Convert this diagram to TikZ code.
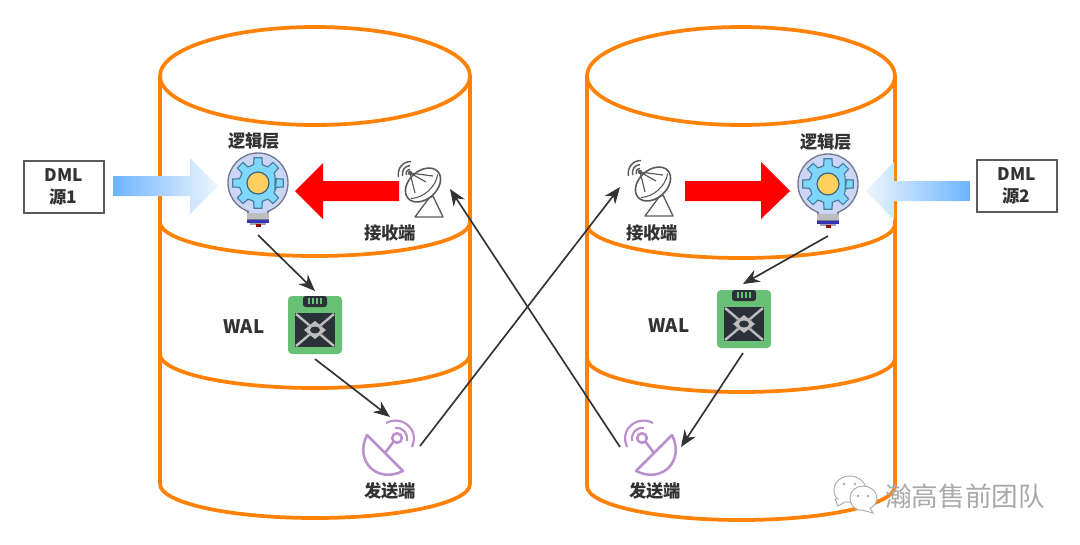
\documentclass[tikz,border=0pt]{standalone}
\usepackage{fontspec}
\setmainfont{Noto Sans CJK SC}
\usetikzlibrary{arrows.meta}
\definecolor{can}{HTML}{FF8207}
\definecolor{ink}{HTML}{333333}
\definecolor{blueA}{HTML}{6DB4FF}
\definecolor{blueB}{HTML}{EEF6FE}
\definecolor{bulbfill}{HTML}{CBD5F6}
\definecolor{bulbline}{HTML}{73788C}
\definecolor{gearfill}{HTML}{7FD7FD}
\definecolor{gearline}{HTML}{4C7F9C}
\definecolor{sun}{HTML}{FFCF5F}
\definecolor{chipgreen}{HTML}{68BF76}
\definecolor{chipdark}{HTML}{2B3139}
\definecolor{chipgrey}{HTML}{BDBDBD}
\definecolor{purple}{HTML}{BB8FCE}
\definecolor{dishline}{HTML}{5A5A5A}
\definecolor{wm}{HTML}{A9A9A9}
\tikzset{
  x=0.75pt,y=-0.75pt,
  canline/.style={draw=can,line width=2.8pt,line join=round},
  conn/.style={draw=ink,line width=1.25pt,-{Stealth[length=12.5pt,width=10pt]}},
  lab/.style={font=\bfseries\fontsize{13}{16}\selectfont,text=ink,inner sep=0pt},
  latinlab/.style={font=\bfseries\fontsize{14}{16}\selectfont,text=ink,inner sep=0pt},
  srcbox/.style={draw=dishline,line width=1.5pt,fill=white,minimum width=60pt,minimum height=38.5pt,inner sep=0pt,align=center,font=\bfseries\fontsize{13}{17}\selectfont,text=ink},
  redarrow/.style={fill=red},
  bulb/.pic={
    \draw[fill=bulbfill,draw=bulbline,line width=1pt] (-10,25) -- (-10,37) -- (10,37) -- (10,25) -- cycle;
    \draw[fill=bulbfill,draw=bulbline,line width=1pt] (0,0) circle (30);
    \fill[bulbfill] (-9,24) rectangle (9,36);
    \draw[fill=gearfill,draw=gearline,line width=0.9pt]
      (22.5:18.5) \foreach \a in {0,45,...,315}{
        -- (\a-13:19) -- (\a-9:25.5) -- (\a+9:25.5) -- (\a+13:19) -- (\a+22.5:18.5)
      } -- cycle;
    \draw[fill=sun,draw=gearline!80!black,line width=0.9pt] (0,0) circle (11);
    \fill[chipgrey] (-11,30) rectangle (11,36);
    \fill[bulbline] (-11,36) rectangle (11,37);
    \fill[blue!65!black!80] (-11,37) rectangle (11,40);
    \fill[bulbline!70] (-8,40) rectangle (8,41.5);
    \fill[red!60!black] (-2.5,41) rectangle (2.5,43.5);
  },
  rxdish/.pic={
    \draw[dishline,line width=1pt,line join=round,fill=white] (6,13) -- (-8,32) -- (20,32) -- (10,11) -- cycle;
    \begin{scope}[rotate around={42:(0,0)}]
      \draw[dishline,line width=1.2pt,fill=white] (0,0) ellipse[x radius=20,y radius=14];
      \draw[dishline,line width=0.8pt] (-18,2) .. controls (-8,10) and (8,10) .. (18,2);
    \end{scope}
    \draw[dishline,line width=0.9pt] (-13,-12) -- (3,-3) (-13,-12) -- (-8,8) (-13,-12) -- (10,-9);
    \fill[dishline] (-13,-12) circle (2.2);
    \draw[dishline,line width=1.1pt] (-16.5,-10) .. controls (-17.5,-13) and (-16,-15) .. (-13,-15.5);
    \draw[dishline,line width=1.1pt] (-20.5,-9) .. controls (-21.5,-15) and (-18,-19) .. (-13,-19.5);
    \draw[dishline,line width=1.1pt] (-24.5,-8) .. controls (-26,-17) and (-20,-23.5) .. (-12,-23.5);
  },
  txdish/.pic={
    \draw[purple,line width=1.9pt,line join=round,fill=white] (-30,-3) .. controls (-43,23) and (-20,46) .. (6,33) -- cycle;
    \draw[purple,line width=1.9pt] (-12,15) -- (-3,3);
    \draw[purple,line width=1.9pt,fill=white] (0,0) circle (4.8);
    \draw[purple,line width=1.6pt] (-2,-10) .. controls (6,-11) and (11,-5) .. (10,3);
    \draw[purple,line width=1.6pt] (-11,-15) .. controls (4,-23) and (23,-10) .. (15,9);
  },
  chipicon/.pic={
    \fill[chipgreen,rounded corners=3] (-27,-29) rectangle (27,29);
    \fill[chipdark,rounded corners=2] (-12,-29) rectangle (12,-18);
    \foreach \i in {-6,-2,2,6}{\fill[chipgreen] (\i-0.9,-27) rectangle (\i+0.9,-21);}
    \fill[chipdark] (-20,-12) rectangle (20,22);
    \draw[chipgrey,line width=1.8pt] (-19,-11) -- (19,21) (19,-11) -- (-19,21);
    \fill[chipgrey] (-11,5) -- (0,-4) -- (11,5) -- (0,14) -- cycle;
    \fill[chipdark] (0,5) ellipse[x radius=5,y radius=3.5];
    \foreach \p/\q in {-7/1,7/1,-7/9,7/9}{\fill[gray] (\p,\q) circle (1.2);}
  },
}
\begin{document}
\begin{tikzpicture}
\useasboundingbox[fill=white] (0,0) rectangle (1080,544);

% left cylinder
\draw[canline] (315,76) ellipse[x radius=155,y radius=49];
\draw[canline] (160,76) -- (160,484);
\draw[canline] (470,76) -- (470,484);
\draw[canline] (470,222) arc[start angle=0,end angle=180,x radius=155,y radius=34];
\draw[canline] (470,354) arc[start angle=0,end angle=180,x radius=155,y radius=34];
\draw[canline] (470,484) arc[start angle=0,end angle=180,x radius=155,y radius=34];

% right cylinder
\draw[canline] (741,76) ellipse[x radius=154,y radius=49];
\draw[canline] (587,76) -- (587,486);
\draw[canline] (895,76) -- (895,486);
\draw[canline] (895,224) arc[start angle=0,end angle=180,x radius=154,y radius=34];
\draw[canline] (895,358) arc[start angle=0,end angle=180,x radius=154,y radius=34];
\draw[canline] (895,486) arc[start angle=0,end angle=180,x radius=154,y radius=34];

% block arrows
\shade[left color=blueA,right color=blueB]
  (113,176) -- (190,176) -- (190,158) -- (218,186) -- (190,214) -- (190,196) -- (113,196) -- cycle;
\shade[left color=blueB,right color=blueA]
  (970,181) -- (894,181) -- (894,162) -- (866,191) -- (894,220) -- (894,201) -- (970,201) -- cycle;
\fill[redarrow] (399,181) -- (323,181) -- (323,163) -- (295,191) -- (323,219) -- (323,201) -- (399,201) -- cycle;
\fill[redarrow] (685,181) -- (761,181) -- (761,162) -- (790,191) -- (761,219) -- (761,201) -- (685,201) -- cycle;

% source boxes
\node[srcbox] (dml1) at (63.5,187) {DML\\源1};
\node[srcbox] (dml2) at (1016.5,186) {DML\\源2};

% icons
\pic at (258,183) {bulb};
\pic at (828,184) {bulb};
\pic at (423,185) {rxdish};
\pic at (653,184) {rxdish};
\pic at (397,438) {txdish};
\pic[xscale=-1] at (642,438) {txdish};
\pic at (315,325) {chipicon};
\pic at (744,319) {chipicon};

% labels
\node[lab] (logicL) at (254,141) {逻辑层};
\node[lab] (logicR) at (826,142) {逻辑层};
\node[lab] (rxL) at (390,233) {接收端};
\node[lab] (rxR) at (652,233) {接收端};
\node[lab] (txL) at (390,491) {发送端};
\node[lab] (txR) at (655,491) {发送端};
\node[latinlab] (walL) at (244,327) {WAL};
\node[latinlab] (walR) at (669,326) {WAL};

% connector ends
\coordinate (bulbLout) at (258,235);
\coordinate (chipLin) at (315,291);
\coordinate (chipLout) at (315,359);
\coordinate (txLin) at (390,417);
\coordinate (txLout) at (420,446);
\coordinate (rxRin) at (620,187);
\coordinate (txRout) at (620,447);
\coordinate (rxLin) at (450,189);
\coordinate (bulbRout) at (828,236);
\coordinate (chipRin) at (743,284);
\coordinate (chipRout) at (743,353);
\coordinate (txRin) at (681,447);

\draw[conn] (bulbLout) -- (chipLin);
\draw[conn] (chipLout) -- (txLin);
\draw[conn] (txLout) -- (rxRin);
\draw[conn] (txRout) -- (rxLin);
\draw[conn] (bulbRout) -- (chipRin);
\draw[conn] (chipRout) -- (txRin);

% watermark
\draw[wm,line width=0.7pt,fill=white] (835,499) -- (838,506) -- (845,502) .. controls (857,503) and (866,497) .. (866,490) .. controls (866,482) and (858,476) .. (850,476) .. controls (841,476) and (834,482) .. (834,490) .. controls (834,494) and (835,497) .. (838,499) -- cycle;
\draw[wm,line width=0.7pt,fill=white] (870,508) -- (873,513) -- (862,510) .. controls (855,511) and (850,505) .. (850,498) .. controls (850,491) and (856,486) .. (863,486) .. controls (870,486) and (877,491) .. (877,498) .. controls (877,502) and (875,506) .. (870,508) -- cycle;
\fill[wm] (844,484) circle (1.4) (855,484) circle (1.4) (858,496) circle (1.3) (868,496) circle (1.3);
\node[inner sep=0pt,text=wm,font=\fontsize{20}{24}\selectfont] (mark) at (965,496) {瀚高售前团队};
\end{tikzpicture}
\end{document}
